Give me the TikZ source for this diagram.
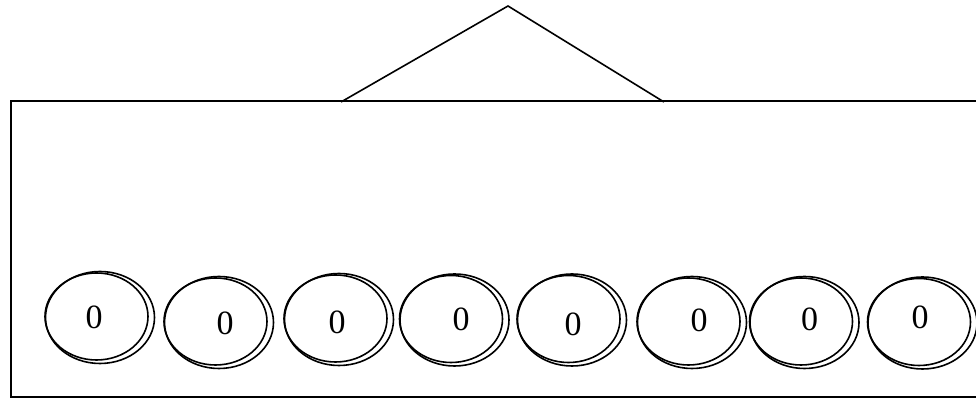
\documentclass[tikz,border=0pt]{standalone}
\usepackage{fontspec}
\setmainfont{Liberation Serif}
\usetikzlibrary{shapes.geometric, positioning}

\begin{document}
\begin{tikzpicture}[
      x=1pt, y=1pt, line width=1.6pt,
      font=\fontsize{34}{40}\selectfont,
      cell/.style={draw, ellipse, inner sep=0pt,
                   minimum width=103pt, minimum height=87pt},
      cellrim/.style={draw, ellipse, inner sep=0pt,
                      minimum width=109pt, minimum height=92pt},
      digit/.style={inner sep=0pt},
    ]
    \useasboundingbox (0,0) rectangle (976,403);
    % box and roof
    \node[draw, line width=1.8pt, inner sep=0pt, minimum width=980pt,
          minimum height=296pt, anchor=south west] (box) at (10,5) {};
    \coordinate (roofl) at (341,301);
    \coordinate (apex) at (508,397);
    \coordinate (roofr) at (664,301);
    \draw (roofl) -- (apex) -- (roofr);
    % cells
    \foreach \i/\cx/\cy/\tx/\ty in {1/96.5/86.5/94/86, 2/215.5/81.5/225/80,
        3/335.5/84.5/337/81, 4/451/84/461/84, 5/568.5/84/573/79,
        6/688.5/81.5/699/83, 7/801/81.5/809.5/84, 8/919/81/920/85.5} {
      \node[cellrim] (rim\i) at (\cx+3.5,\cy-1) {};
      \node[cell] (cell\i) at (\cx,\cy) {};
      \node[digit] (val\i) at (\tx,\ty) {0};
    }
\end{tikzpicture}
\end{document}
